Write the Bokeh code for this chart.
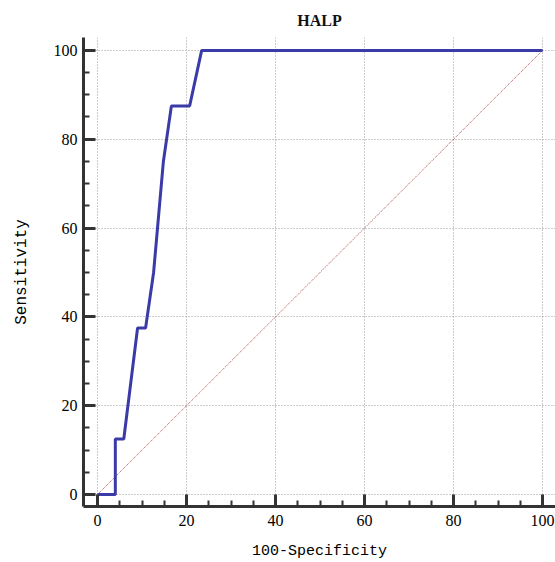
from bokeh.plotting import figure
from bokeh.models import Range1d, FixedTicker
from bokeh.embed import file_html
from bokeh.resources import INLINE

fpr = [0, 4.0, 4.0, 5.9, 9.0, 10.8, 12.6, 14.8, 16.6, 20.7, 23.4, 100]
tpr = [0, 0, 12.5, 12.5, 37.5, 37.5, 50, 75, 87.5, 87.5, 100, 100]
diag_x = [0, 100]
diag_y = [0, 100]
major_ticks = [0, 20, 40, 60, 80, 100]
minor_ticks = [5, 10, 15, 25, 30, 35, 45, 50, 55, 65, 70, 75, 85, 90, 95]

p = figure(width=555, height=562, output_backend="svg", toolbar_location=None,
           x_range=Range1d(-3.15, 102.9), y_range=Range1d(-2.7, 102.9),
           title="HALP", min_border_left=83, min_border_right=0,
           min_border_top=37, min_border_bottom=54)
p.outline_line_color = None
p.background_fill_color = "white"
p.border_fill_color = "white"

p.title.align = "center"
p.title.text_font = "Liberation Serif"
p.title.text_font_size = "16px"
p.title.text_font_style = "bold"
p.title.text_color = "#111111"
p.title.standoff = 17

for ax in (p.xaxis, p.yaxis):
    ax.ticker = FixedTicker(ticks=major_ticks, minor_ticks=minor_ticks)
    ax.axis_line_color = "#333333"
    ax.axis_line_width = 3
    ax.major_tick_line_color = "#333333"
    ax.major_tick_line_width = 3
    ax.major_tick_in = 12
    ax.major_tick_out = 0
    ax.minor_tick_line_color = "#333333"
    ax.minor_tick_line_width = 2
    ax.minor_tick_in = 6
    ax.minor_tick_out = 0
    ax.major_label_text_font = "Liberation Serif"
    ax.major_label_text_font_size = "16px"
    ax.major_label_text_color = "#000000"
    ax.axis_label_text_font = "Liberation Mono"
    ax.axis_label_text_font_style = "normal"
    ax.axis_label_text_color = "#000000"

p.xaxis.axis_label = "100-Specificity"
p.yaxis.axis_label = "Sensitivity"
p.xaxis.axis_label_text_font_size = "15px"
p.yaxis.axis_label_text_font_size = "16px"
p.xaxis.major_label_standoff = 8
p.yaxis.major_label_standoff = 6
p.xaxis.axis_label_standoff = 14
p.yaxis.axis_label_standoff = 20

for g in (p.xgrid, p.ygrid):
    g.ticker = FixedTicker(ticks=major_ticks)
    g.grid_line_color = "#999999"
    g.grid_line_dash = "1 2"
    g.grid_line_width = 1

p.line(diag_x, diag_y, line_color="#b04848", line_width=1, line_dash="1 1")
p.line(fpr, tpr, line_color="#3a3aa8", line_width=3)

open("out.html", "w").write(file_html(p, INLINE))
